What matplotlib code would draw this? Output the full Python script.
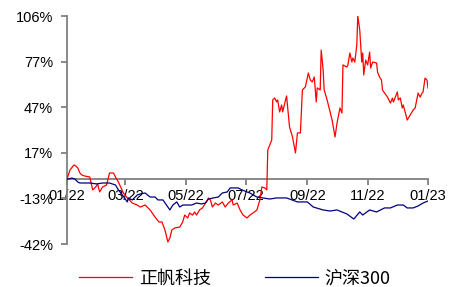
import datetime as dt
import matplotlib
matplotlib.use("Agg")
import matplotlib.pyplot as plt
import matplotlib.dates as mdates
import numpy as np

plt.rcParams['font.family'] = ['Liberation Sans', 'Noto Sans CJK SC', 'DejaVu Sans']

# ---- data (days since 2022-01-01, cumulative return %) ----
red_days = [0, 3, 7, 9, 11, 13, 15, 18, 23, 26, 29, 31, 33, 36, 40, 43, 47, 49, 52, 57,
            61, 66, 71, 74, 79, 84, 89, 93, 96, 99, 102, 104, 106, 109, 114, 117, 119, 122,
            124, 127, 129, 131, 134, 137, 142, 143, 145, 147, 150, 153, 157, 160, 163, 167,
            168, 172, 175, 178, 182, 185, 188, 192, 195, 197, 200, 202, 203, 207, 208, 210,
            212, 213, 215, 217, 218, 222, 225, 228, 231, 233, 236, 238, 241, 244, 246, 248,
            250, 252, 253, 256, 257, 259, 260, 263, 268, 271, 273, 276, 278, 279, 283, 284,
            286, 288, 289, 291, 293, 294, 296, 298, 299, 300, 302, 304, 306, 307, 309, 313,
            314, 316, 318, 319, 324, 327, 329, 330, 334, 335, 337, 339, 340, 344, 347, 350,
            352, 355, 357, 359, 360, 362, 364, 365]
red_vals = [0.0, 6.0, 9.3, 8.6, 7.3, 4.1, 2.8, 2.1, 1.5, -6.9, -5.0, -3.0, -8.2, -5.0, -3.7,
            4.1, 4.1, 1.5, -1.8, -8.9, -12.1, -15.4, -16.7, -18.0, -16.7, -19.9, -24.5, -27.7,
            -27.7, -32.9, -40.7, -38.1, -32.9, -31.6, -31.0, -27.7, -23.2, -25.1, -21.9, -23.2,
            -21.2, -23.2, -19.9, -18.6, -13.4, -12.1, -13.4, -18.0, -15.4, -16.7, -14.7, -18.0,
            -15.4, -13.4, -16.7, -15.4, -19.9, -23.2, -25.1, -23.2, -21.9, -19.9, -13.4, -5.0,
            -5.6, -6.9, 19.0, 25.5, 51.5, 52.8, 50.2, 51.5, 43.7, 48.2, 43.7, 54.1, 34.0, 27.5,
            17.1, 30.1, 30.1, 58.0, 60.0, 69.0, 64.5, 63.2, 66.4, 50.2, 59.3, 58.0, 83.9, 70.9,
            58.0, 51.5, 38.5, 27.5, 36.5, 46.3, 43.0, 74.2, 72.9, 74.2, 82.0, 76.1, 78.7, 76.1,
            87.2, 106.0, 96.9, 76.1, 82.0, 67.7, 77.4, 74.2, 82.6, 72.2, 76.1, 75.5, 69.6, 66.4,
            64.4, 57.9, 53.4, 49.5, 52.7, 50.2, 56.7, 51.5, 52.8, 46.3, 48.2, 38.5, 41.8, 45.0,
            46.3, 56.0, 53.4, 56.0, 56.6, 65.7, 64.4, 59.2]

blue_days = [0, 5, 8, 11, 13, 18, 23, 30, 36, 43, 49, 52, 56, 61, 62, 66, 71, 74, 79, 84,
             89, 92, 97, 102, 104, 107, 111, 114, 117, 121, 126, 131, 136, 140, 143, 148, 153,
             157, 162, 165, 170, 173, 177, 182, 185, 192, 198, 205, 212, 222, 233, 243, 249,
             259, 266, 273, 283, 290, 296, 299, 306, 313, 321, 327, 334, 340, 344, 350, 355,
             360, 365]
blue_vals = [0.0, 0.8, 0.2, -1.8, -2.4, -2.4, -2.4, -3.0, -2.4, -2.4, -3.7, -6.9, -10.2, -14.7,
             -12.1, -13.4, -10.2, -9.5, -8.9, -11.5, -11.5, -13.4, -13.4, -18.0, -19.9, -16.7,
             -14.7, -18.0, -16.7, -16.7, -16.7, -15.4, -16.0, -15.4, -12.8, -12.1, -11.5, -8.9,
             -8.2, -5.6, -5.6, -5.6, -6.9, -8.2, -8.9, -11.5, -12.1, -12.8, -12.1, -12.1, -14.7,
             -14.7, -18.0, -19.9, -20.6, -19.9, -22.5, -25.8, -21.2, -23.2, -19.9, -21.2, -18.6,
             -18.6, -16.7, -16.7, -18.6, -18.6, -17.3, -15.4, -14.1]

series_names = ['正帆科技', '沪深300']
y_ticks = [-42, -12.4, 17.2, 46.8, 76.4, 106]
y_labels = ['-42%', '-13%', '17%', '47%', '77%', '106%']
x_tick_dates = ['2022-01-01', '2022-03-01', '2022-05-01', '2022-07-01',
                '2022-09-01', '2022-11-01', '2023-01-01']

base = dt.datetime(2022, 1, 1)
red_dates = [base + dt.timedelta(days=d) for d in red_days]
blue_dates = [base + dt.timedelta(days=d) for d in blue_days]
xt = [dt.datetime.strptime(s, '%Y-%m-%d') for s in x_tick_dates]

fig = plt.figure(figsize=(4.61, 2.87), dpi=100)
ax = fig.add_axes([67/461, 1-244/287, (428-67)/461, (244-16)/287])

l1, = ax.plot(red_dates, red_vals, color='#FF0000', lw=0.9, zorder=3)
l2, = ax.plot(blue_dates, blue_vals, color='#000080', lw=0.9, zorder=3)

ax.set_xlim(base, dt.datetime(2023, 1, 1))
ax.set_ylim(-42, 106)
ax.set_yticks(y_ticks)
ax.set_yticklabels(y_labels)
ax.set_xticks(xt)
ax.xaxis.set_major_formatter(mdates.DateFormatter('%m/%y'))

gray = '#808080'
for s in ['top', 'right']:
    ax.spines[s].set_visible(False)
ax.spines['bottom'].set_position(('data', 0))
ax.spines['bottom'].set_color(gray)
ax.spines['left'].set_color(gray)
ax.spines['bottom'].set_linewidth(1.3)
ax.spines['left'].set_linewidth(1.3)
ax.spines['bottom'].set_zorder(2)
ax.tick_params(axis='both', colors=gray, length=4, width=1.3, labelcolor='black', labelsize=10.5)
ax.tick_params(axis='x', direction='out', pad=3)
ax.tick_params(axis='y', direction='out', pad=6)
for lab in ax.get_xticklabels():
    lab.set_zorder(4)

leg = fig.legend([l1, l2], series_names, loc='center', bbox_to_anchor=(0.51, 0.03),
                 ncol=2, frameon=False, handlelength=2.9, handletextpad=0.4,
                 columnspacing=3.0, prop={'family': ['Noto Sans CJK SC', 'DejaVu Sans'], 'size': 13})

fig.savefig('out.png', dpi=100)
